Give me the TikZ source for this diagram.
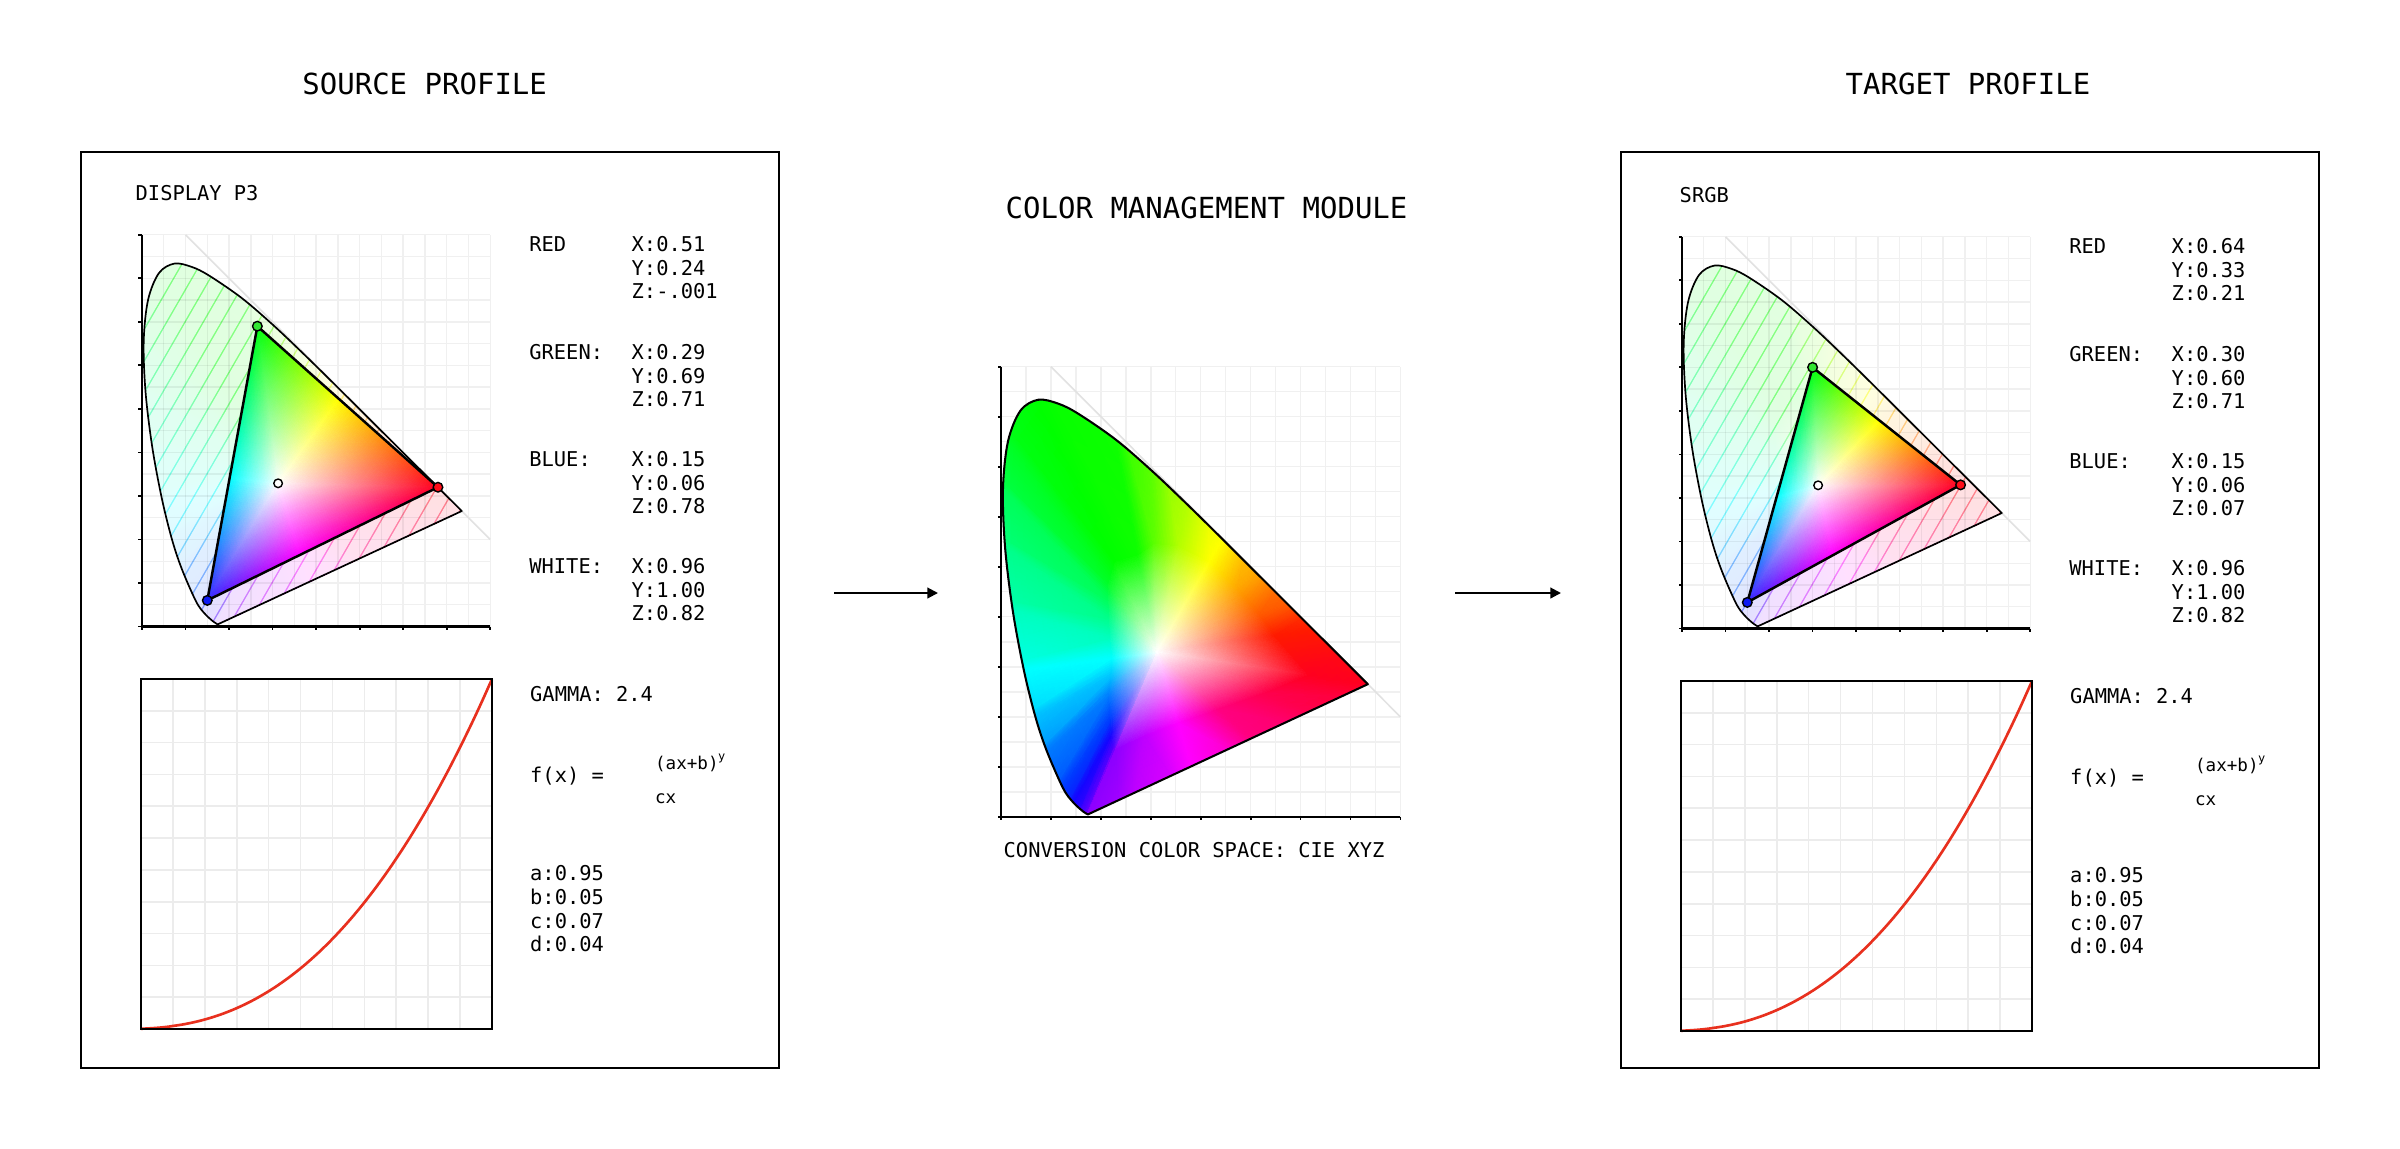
\documentclass[tikz,border=0pt]{standalone}
\usepackage{fontspec}
\setmainfont{DejaVu Sans Mono}
\usepackage{pgfplots}
\usepackage{pgfplotstable}
\pgfplotsset{compat=1.18}
\usetikzlibrary{arrows.meta}

\definecolor{gridc}{RGB}{240,240,240}
\definecolor{ggridc}{RGB}{236,236,236}
\definecolor{diagc}{RGB}{226,226,226}
\definecolor{curvec}{RGB}{232,48,30}
\definecolor{f01}{rgb}{0.55,0,1}
\definecolor{f02}{rgb}{0.3,0,1}
\definecolor{f03}{rgb}{0.08,0.02,1}
\definecolor{f04}{rgb}{0,0.22,1}
\definecolor{f05}{rgb}{0,0.48,1}
\definecolor{f06}{rgb}{0,0.75,1}
\definecolor{f07}{rgb}{0,1,1}
\definecolor{f08}{rgb}{0,1,0.75}
\definecolor{f09}{rgb}{0,1,0.55}
\definecolor{f10}{rgb}{0,1,0.35}
\definecolor{f11}{rgb}{0,1,0.15}
\definecolor{f12}{rgb}{0,1,0}
\definecolor{f13}{rgb}{0.05,1,0}
\definecolor{f14}{rgb}{0.35,1,0}
\definecolor{f15}{rgb}{0.7,1,0}
\definecolor{f16}{rgb}{1,1,0}
\definecolor{f17}{rgb}{1,0.65,0}
\definecolor{f18}{rgb}{1,0.35,0}
\definecolor{f19}{rgb}{1,0.1,0}
\definecolor{f20}{rgb}{1,0,0.12}
\definecolor{f21}{rgb}{1,0,0.3}
\definecolor{f22}{rgb}{1,0,0.5}
\definecolor{f23}{rgb}{1,0,1}
\definecolor{f24}{rgb}{0.75,0,1}
\definecolor{tR}{rgb}{1,0,0.12}
\definecolor{tY}{rgb}{1,1,0}
\definecolor{tG}{rgb}{0,1,0.05}
\definecolor{tC}{rgb}{0,1,1}
\definecolor{tB}{rgb}{0.2,0.15,1}
\definecolor{tM}{rgb}{1,0,1}
\definecolor{dR}{rgb}{1,0.05,0.1}
\definecolor{dG}{rgb}{0.2,0.9,0.2}
\definecolor{dB}{rgb}{0.05,0.1,0.95}

\pgfplotstableread{
x y k c
0 0 0 color=white
0 0 0 color=white
0 0 0 color=white
0 0 0 color=white
0 0 0 color=white
0 0 0 color=white
0 0 0 color=white
0 0 0 color=white
0 0 0 color=white
0 0 0 color=white
0 0 0 color=white
0 0 0 color=white
0 0 0 color=white
0 0 0 color=white
0 0 0 color=white
0 0 0 color=white
0 0 0 color=white
0 0 0 color=white
0 0 0 color=white
0 0 0 color=white
0 0 0 color=white
0 0 0 color=white
0 0 0 color=white
0 0 0 color=white
0 0 0 color=white
0.1741 0.0050 0.60 color=f01
0.1644 0.0109 0.60 color=f02
0.1440 0.0297 0.56 color=f03
0.1241 0.0578 0.50 color=f04
0.0913 0.1327 0.44 color=f05
0.0687 0.2007 0.38 color=f06
0.0454 0.2950 0.34 color=f07
0.0235 0.4127 0.33 color=f08
0.0082 0.5384 0.32 color=f09
0.0039 0.6548 0.32 color=f10
0.0139 0.7502 0.33 color=f11
0.0743 0.8338 0.36 color=f12
0.2296 0.7543 0.46 color=f13
0.3016 0.6923 0.60 color=f14
0.3731 0.6245 0.72 color=f15
0.4441 0.5547 0.80 color=f16
0.5125 0.4866 0.80 color=f17
0.5752 0.4242 0.78 color=f18
0.6270 0.3725 0.75 color=f19
0.7347 0.2653 0.72 color=f20
0.6200 0.2120 0.70 color=f21
0.5000 0.1563 0.66 color=f22
0.3800 0.1006 0.62 color=f23
0.2700 0.0495 0.60 color=f24
0.1741 0.0050 0.60 color=f01
0.1741 0.0050 1.6 color=f01
0.1644 0.0109 1.6 color=f02
0.1440 0.0297 1.6 color=f03
0.1241 0.0578 1.6 color=f04
0.0913 0.1327 1.6 color=f05
0.0687 0.2007 1.6 color=f06
0.0454 0.2950 1.6 color=f07
0.0235 0.4127 1.6 color=f08
0.0082 0.5384 1.6 color=f09
0.0039 0.6548 1.6 color=f10
0.0139 0.7502 1.6 color=f11
0.0743 0.8338 1.6 color=f12
0.2296 0.7543 1.6 color=f13
0.3016 0.6923 1.6 color=f14
0.3731 0.6245 1.6 color=f15
0.4441 0.5547 1.6 color=f16
0.5125 0.4866 1.6 color=f17
0.5752 0.4242 1.6 color=f18
0.6270 0.3725 1.6 color=f19
0.7347 0.2653 1.6 color=f20
0.6200 0.2120 1.6 color=f21
0.5000 0.1563 1.6 color=f22
0.3800 0.1006 1.6 color=f23
0.2700 0.0495 1.6 color=f24
0.1741 0.0050 1.6 color=f01
}\fantab

\pgfplotstableread{
x y c
0.3127 0.329 color=white
0.68 0.32 color=tR
0.4518 0.5235 color=tY
0.3127 0.329 color=white
0.4518 0.5235 color=tY
0.265 0.69 color=tG
0.3127 0.329 color=white
0.265 0.69 color=tG
0.2018 0.3435 color=tC
0.3127 0.329 color=white
0.2018 0.3435 color=tC
0.15 0.06 color=tB
0.3127 0.329 color=white
0.15 0.06 color=tB
0.362 0.164 color=tM
0.3127 0.329 color=white
0.362 0.164 color=tM
0.68 0.32 color=tR
}\ptab

\pgfplotstableread{
x y c
0.3127 0.329 color=white
0.64 0.33 color=tR
0.453 0.4785 color=tY
0.3127 0.329 color=white
0.453 0.4785 color=tY
0.30 0.60 color=tG
0.3127 0.329 color=white
0.30 0.60 color=tG
0.2175 0.303 color=tC
0.3127 0.329 color=white
0.2175 0.303 color=tC
0.15 0.06 color=tB
0.3127 0.329 color=white
0.15 0.06 color=tB
0.346 0.168 color=tM
0.3127 0.329 color=white
0.346 0.168 color=tM
0.64 0.33 color=tR
}\stab

\tikzset{
  locus/.style={insert path={plot[smooth,tension=0.55] coordinates {
    (0.1741,0.0050) (0.1644,0.0109) (0.1440,0.0297) (0.1241,0.0578)
    (0.0913,0.1327) (0.0687,0.2007) (0.0454,0.2950) (0.0235,0.4127)
    (0.0082,0.5384) (0.0039,0.6548) (0.0139,0.7502) (0.0389,0.8120)
    (0.0743,0.8338) (0.1142,0.8262) (0.1547,0.8059) (0.2296,0.7543)
    (0.3016,0.6923) (0.3731,0.6245) (0.4441,0.5547) (0.5125,0.4866)
    (0.5752,0.4242) (0.6270,0.3725) (0.6658,0.3340) (0.6915,0.3083)
    (0.7347,0.2653)} -- cycle}},
  hatchstrips/.style={insert path={foreach \hh in {-0.588,-0.546,...,0.81}
    {(\hh,-0.05) -- (\hh+0.0042,-0.05) -- (\hh+0.0042+0.5485,0.9) -- (\hh+0.5485,0.9) -- cycle}}},
  txt/.style={inner sep=0pt, anchor=base west, font=\fontsize{5.8}{7}\selectfont},
  small/.style={inner sep=0pt, anchor=base west, font=\fontsize{5.0}{6}\selectfont},
  tiny/.style={inner sep=0pt, anchor=base west, font=\fontsize{3.4}{4}\selectfont},
  ttl/.style={inner sep=0pt, anchor=base west, font=\fontsize{8.25}{10}\selectfont},
  panel/.style={draw=black, line width=0.58pt, inner sep=0pt, fill=none},
  arr/.style={line width=0.58pt, -{Triangle[length=3pt,width=3pt]}},
  gline/.style={gridc, line width=0.4pt},
  gover/.style={black, opacity=0.06, line width=0.4pt},
  ggline/.style={ggridc, line width=0.45pt},
  tick/.style={line width=0.5pt},
  dot/.style={line width=0.4pt, draw=black},
}

\newcommand\FanAxis[2]{%
  \begin{axis}[at={(0,0)},anchor=origin,x=#1,y=#2,xmin=0,xmax=0.8,ymin=0,ymax=0.9,hide axis,clip=false]
    \addplot[surf,shader=interp,mesh/color input=explicit,point meta=explicit symbolic,mesh/cols=25]
      table[x expr={0.3127+\thisrow{k}*(\thisrow{x}-0.3127)},
            y expr={0.329+\thisrow{k}*(\thisrow{y}-0.329)},meta=c]{\fantab};
  \end{axis}}

\newcommand\TriAxis[1]{%
  \begin{axis}[at={(0,0)},anchor=origin,x=4.35cm,y=4.35cm,xmin=0,xmax=0.8,ymin=0,ymax=0.9,hide axis,clip=false]
    \addplot[patch,shader=interp,mesh/color input=explicit,point meta=explicit symbolic]
      table[meta=c]{#1};
  \end{axis}}

\newcommand\ChartFrame{%
  \foreach \i in {1,...,16} {\draw[gline] (\i*0.05,0) -- (\i*0.05,0.9);}
  \foreach \j in {1,...,18} {\draw[gline] (0,\j*0.05) -- (0.8,\j*0.05);}
  \draw[diagc, line width=0.45pt] (0.1,0.9) -- (0.8,0.2);
  \draw[line width=0.58pt] (0,0.9) -- (0,0) -- (0.8,0);
  \foreach \i in {0,...,8} {\draw[tick] (\i/10,0) -- ++(0,-0.035cm);}
  \foreach \j in {0,...,9} {\draw[tick] (0,\j/10) -- ++(-0.035cm,0);}
}

\newcommand\SideChart[5]{% #1 shift, #2 table, #3 R, #4 G, #5 B
  \begin{scope}[shift={#1},x=4.35cm,y=4.35cm]
    \ChartFrame
    \begin{scope}
      \clip[locus];
      \FanAxis{4.35cm}{4.35cm}
      \fill[white, opacity=0.5] (-0.1,-0.1) rectangle (0.9,1);
      \fill[white, opacity=0.76, even odd rule, hatchstrips] (-0.1,-0.1) rectangle (0.9,1);
      \foreach \i in {1,...,16} {\draw[gover] (\i*0.05,0) -- (\i*0.05,0.9);}
      \foreach \j in {1,...,18} {\draw[gover] (0,\j*0.05) -- (0.8,\j*0.05);}
    \end{scope}
    \draw[line width=0.48pt, line join=round, locus];
    \TriAxis{#2}
    \draw[line width=0.7pt, line join=round] #3 -- #4 -- #5 -- cycle;
    \draw[dot, fill=dR] #3 circle[radius=0.048cm];
    \draw[dot, fill=dG] #4 circle[radius=0.048cm];
    \draw[dot, fill=dB] #5 circle[radius=0.048cm];
    \draw[dot, fill=white] (0.3127,0.329) circle[radius=0.043cm];
  \end{scope}}

\newcommand\GammaChart[2]{%
  \begin{scope}[shift={(#1,#2)}]
    \foreach \i in {1,...,10} {
      \draw[ggline] ({\i*351/11},0) -- ({\i*351/11},350);
      \draw[ggline] (0,{\i*350/11}) -- (351,{\i*350/11});
    }
    \draw[curvec, line width=0.75pt] plot[domain=0:1,samples=90] ({351*\x},{350-350*(0.95*\x+0.05)^2.4});
    \draw[line width=0.6pt] (0,0) rectangle (351,350);
  \end{scope}}

\begin{document}
\begin{tikzpicture}[x=0.01cm,y=-0.01cm]
  \useasboundingbox[fill=white] (0,0) rectangle (2400,1148);

  % titles
  \node[ttl] (tsrc) at (301.7,94) {SOURCE PROFILE};
  \node[ttl] (ttgt) at (1845,94) {TARGET PROFILE};
  \node[ttl] (tcmm) at (1005,218) {COLOR MANAGEMENT MODULE};
  \node[txt] (tcie) at (1003,857) {CONVERSION COLOR SPACE: CIE XYZ};

  % panels
  \node[panel, minimum width=6.977cm, minimum height=9.153cm] (srcpanel) at (430.15,610.35) {};
  \node[panel, minimum width=6.974cm, minimum height=9.153cm] (tgtpanel) at (1970.1,610.35) {};

  % arrows
  \coordinate (a1s) at (834,593);
  \coordinate (a1e) at (938,593);
  \coordinate (a2s) at (1455,593);
  \coordinate (a2e) at (1561,593);
  \draw[arr] (a1s) -- (a1e);
  \draw[arr] (a2s) -- (a2e);

  % ---------- source panel ----------
  \node[txt] (p3name) at (135,200) {DISPLAY P3};
  \SideChart{(142,626.5)}{\ptab}{(0.68,0.32)}{(0.265,0.69)}{(0.15,0.06)}
  \node[txt] (sredl) at (528.7,251.7) {RED};
  \node[txt] (sredx) at (631,251.7) {X:0.51};
  \node[txt] (sredy) at (631,275.3) {Y:0.24};
  \node[txt] (sredz) at (631,298.9) {Z:-.001};
  \node[txt] (sgrnl) at (528.7,359.5) {GREEN:};
  \node[txt] (sgrnx) at (631,359.5) {X:0.29};
  \node[txt] (sgrny) at (631,383.1) {Y:0.69};
  \node[txt] (sgrnz) at (631,406.7) {Z:0.71};
  \node[txt] (sblul) at (528.7,466.5) {BLUE:};
  \node[txt] (sblux) at (631,466.5) {X:0.15};
  \node[txt] (sbluy) at (631,490.1) {Y:0.06};
  \node[txt] (sbluz) at (631,513.7) {Z:0.78};
  \node[txt] (swhtl) at (528.7,573.5) {WHITE:};
  \node[txt] (swhtx) at (631,573.5) {X:0.96};
  \node[txt] (swhty) at (631,597.1) {Y:1.00};
  \node[txt] (swhtz) at (631,620.7) {Z:0.82};

  \GammaChart{141}{679}
  \node[txt] (sgam) at (529.5,701.7) {GAMMA: 2.4};
  \node[txt] (sfx) at (529.5,782) {f(x) =};
  \node[small] (snum) at (654.4,769.5) {(ax+b)};
  \node[tiny] (sexp) at (717.5,760) {y};
  \node[small] (sden) at (654.4,803.3) {cx};
  \node[txt] (sa) at (529.5,880) {a:0.95};
  \node[txt] (sb) at (529.5,904) {b:0.05};
  \node[txt] (sc) at (529.5,928) {c:0.07};
  \node[txt] (sd) at (529.5,951.7) {d:0.04};

  % ---------- middle ----------
  \begin{scope}[shift={(1001,816.9)},x=4.99cm,y=5.0cm]
    \ChartFrame
    \begin{scope}
      \clip[locus];
      \FanAxis{4.99cm}{5.0cm}
    \end{scope}
    \draw[line width=0.58pt, line join=round, locus];
  \end{scope}

  % ---------- target panel ----------
  \node[txt] (srgbname) at (1679,202) {SRGB};
  \SideChart{(1682,628.5)}{\stab}{(0.64,0.33)}{(0.30,0.60)}{(0.15,0.06)}
  \node[txt] (tredl) at (2068.7,253.7) {RED};
  \node[txt] (tredx) at (2171,253.7) {X:0.64};
  \node[txt] (tredy) at (2171,277.3) {Y:0.33};
  \node[txt] (tredz) at (2171,300.9) {Z:0.21};
  \node[txt] (tgrnl) at (2068.7,361.5) {GREEN:};
  \node[txt] (tgrnx) at (2171,361.5) {X:0.30};
  \node[txt] (tgrny) at (2171,385.1) {Y:0.60};
  \node[txt] (tgrnz) at (2171,408.7) {Z:0.71};
  \node[txt] (tblul) at (2068.7,468.5) {BLUE:};
  \node[txt] (tblux) at (2171,468.5) {X:0.15};
  \node[txt] (tbluy) at (2171,492.1) {Y:0.06};
  \node[txt] (tbluz) at (2171,515.7) {Z:0.07};
  \node[txt] (twhtl) at (2068.7,575.5) {WHITE:};
  \node[txt] (twhtx) at (2171,575.5) {X:0.96};
  \node[txt] (twhty) at (2171,599.1) {Y:1.00};
  \node[txt] (twhtz) at (2171,622.7) {Z:0.82};

  \GammaChart{1681}{681}
  \node[txt] (tgam) at (2069.5,703.7) {GAMMA: 2.4};
  \node[txt] (tfx) at (2069.5,784) {f(x) =};
  \node[small] (tnum) at (2194.4,771.5) {(ax+b)};
  \node[tiny] (texp) at (2257.5,762) {y};
  \node[small] (tden) at (2194.4,805.3) {cx};
  \node[txt] (ta) at (2069.5,882) {a:0.95};
  \node[txt] (tb) at (2069.5,906) {b:0.05};
  \node[txt] (tc) at (2069.5,930) {c:0.07};
  \node[txt] (td) at (2069.5,953.7) {d:0.04};
\end{tikzpicture}
\end{document}
